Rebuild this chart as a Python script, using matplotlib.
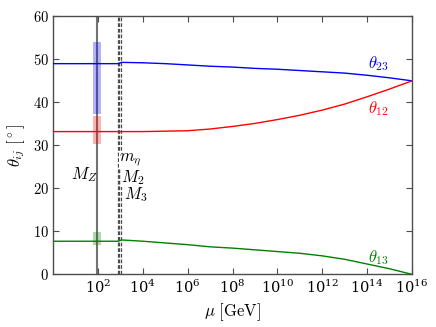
import numpy as np
import matplotlib
matplotlib.use("Agg")
import matplotlib.pyplot as plt
from matplotlib.ticker import FuncFormatter, NullLocator

# running of the mixing angles
log_mu = [0, 2, 2.9, 3.05, 4, 5, 6, 7, 8, 9, 10, 11, 12, 13, 14, 15, 16]
theta23 = [49.0, 49.0, 49.0, 49.3, 49.2, 49.0, 48.7, 48.4, 48.2, 47.9, 47.7,
           47.4, 47.1, 46.8, 46.3, 45.7, 45.0]
theta12 = [33.2, 33.2, 33.2, 33.2, 33.2, 33.3, 33.4, 33.8, 34.4, 35.1, 36.0,
           37.0, 38.2, 39.6, 41.3, 43.1, 45.0]
theta13 = [7.7, 7.7, 7.7, 8.0, 7.7, 7.3, 6.9, 6.4, 6.1, 5.7, 5.3,
           4.9, 4.3, 3.5, 2.4, 1.3, 0.0]

# experimental ranges at M_Z
band_lo = [37.3, 30.4, 6.9]
band_hi = [54.0, 36.8, 9.9]
colors = ["blue", "red", "green"]

M_Z = 91.19
thresholds = [750.0, 900.0, 1070.0]   # m_eta, M_2, M_3

plt.rcParams["mathtext.fontset"] = "cm"
plt.rcParams["font.family"] = "serif"
plt.rcParams["font.serif"] = ["DejaVu Serif"]

mu = 10.0 ** np.array(log_mu)

fig = plt.figure(figsize=(4.36, 3.27), dpi=100)
ax = fig.add_axes([0.122, 0.161, 0.823, 0.789])

ax.axvline(M_Z, color="0.45", lw=1.5, zorder=1)
for t in thresholds:
    ax.axvline(t, color="0.3", lw=0.9, ls="--", dashes=(3, 1.5), zorder=1)

for lo, hi, c in zip(band_lo, band_hi, colors):
    ax.fill_between([M_Z / 1.5, M_Z * 1.5], lo, hi, color=c, alpha=0.3,
                    lw=0, zorder=2)

for th, c in zip([theta23, theta12, theta13], colors):
    ax.plot(mu, th, color=c, lw=1.0, zorder=3)

ax.text(10**14.5, 48.9, r"$\theta_{23}$", color="blue", fontsize=12,
        ha="center", va="center")
ax.text(10**14.5, 38.6, r"$\theta_{12}$", color="red", fontsize=12,
        ha="center", va="center")
ax.text(10**14.5, 3.8, r"$\theta_{13}$", color="green", fontsize=12,
        ha="center", va="center")

box = dict(facecolor="white", edgecolor="none", pad=0)
ax.text(10**1.4, 23.1, r"$M_Z$", fontsize=12, ha="center", va="center")
ax.text(10**2.95, 26.8, r"$m_\eta$", fontsize=12, ha="left", va="center",
        bbox=box, zorder=4)
ax.text(10**3.02, 22.6, r"$M_2$", fontsize=12, ha="left", va="center",
        bbox=box, zorder=4)
ax.text(10**3.15, 18.5, r"$M_3$", fontsize=12, ha="left", va="center",
        bbox=box, zorder=4)

ax.set_xscale("log")
ax.set_xlim(1, 1e16)
ax.set_ylim(0, 60)
ax.set_xticks([10.0**k for k in range(2, 17, 2)])
ax.xaxis.set_minor_locator(NullLocator())
ax.set_yticks(range(0, 61, 10))
ax.yaxis.set_major_formatter(FuncFormatter(lambda v, p: r"$%d$" % v))
ax.tick_params(direction="in", top=True, right=True, labelsize=10.5,
               length=4, width=0.8, pad=3, color="0.3")
for s in ax.spines.values():
    s.set_linewidth(1.0)
    s.set_color("0.3")

ax.set_xlabel(r"$\mu\ [\mathrm{GeV}]$", fontsize=12, labelpad=4)
ax.set_ylabel(r"$\theta_{ij}\ [^\circ]$", fontsize=12, labelpad=4)

fig.savefig("out.png", dpi=100)
